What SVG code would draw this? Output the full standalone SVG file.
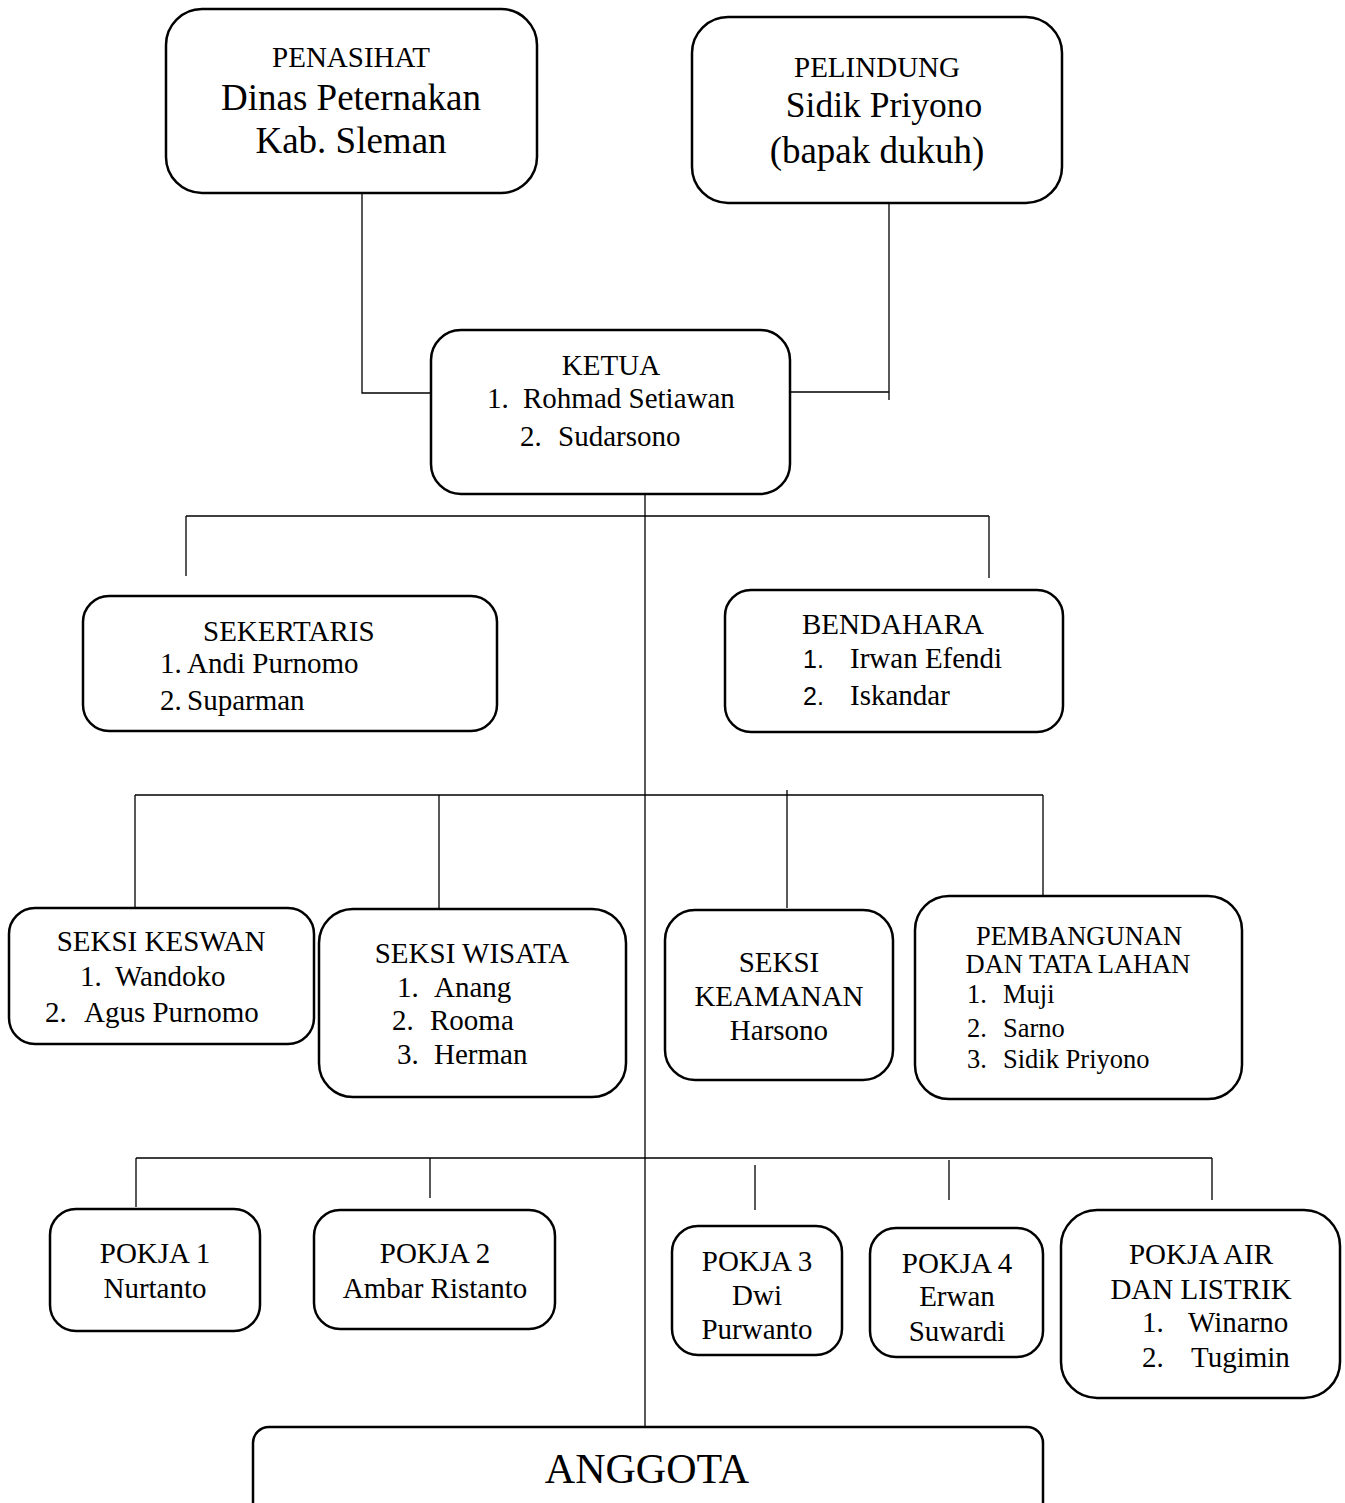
<svg xmlns="http://www.w3.org/2000/svg" width="1345" height="1503" viewBox="0 0 1345 1503">
<style>
.box{fill:#fff;stroke:#000;stroke-width:2.5}
.ln{stroke:#000;stroke-width:1.3;fill:none}
text{font-family:"Liberation Serif","Times New Roman",serif;font-size:29px;fill:#000}
.c{text-anchor:middle}
.big{font-size:37px}
.sans{font-family:"Liberation Sans",Arial,sans-serif;font-size:25px}
.sm{font-size:26.5px}
</style>
<rect width="1345" height="1503" fill="#fff"/>
<g id="connectors">
<path class="ln" d="M362 193V393H432"/>
<path class="ln" d="M790 392H889M889 203V400"/>
<path class="ln" d="M645 494V1427"/>
<path class="ln" d="M186 516H989M186 516V576M989 516V578"/>
<path class="ln" d="M135 795H1043M135 795V908M439 795V908M787 790V908M1043 795V895"/>
<path class="ln" d="M136 1158H1212M136 1158V1207M430 1158V1198M755 1165V1210M949 1160V1200M1212 1158V1200"/>
</g>
<g id="penasihat">
<rect class="box" x="166" y="9" width="371" height="184" rx="36"/>
<text class="c" x="351" y="67">PENASIHAT</text>
<text class="c big" x="351" y="110">Dinas Peternakan</text>
<text class="c big" x="351" y="153">Kab. Sleman</text>
</g>
<g id="pelindung">
<rect class="box" x="692" y="17" width="370" height="186" rx="36"/>
<text class="c" x="877" y="77">PELINDUNG</text>
<text class="c big" x="884" y="117" style="font-size:35.5px">Sidik Priyono</text>
<text class="c big" x="877" y="163">(bapak dukuh)</text>
</g>
<g id="ketua">
<rect class="box" x="431" y="330" width="359" height="164" rx="30"/>
<text class="c" x="611" y="375">KETUA</text>
<text x="487" y="408">1.</text><text x="523" y="408">Rohmad Setiawan</text>
<text x="520" y="446">2.</text><text x="558" y="446">Sudarsono</text>
</g>
<g id="sekertaris">
<rect class="box" x="83" y="596" width="414" height="135" rx="26"/>
<text x="203" y="641">SEKERTARIS</text>
<text x="160" y="673">1.</text><text x="187" y="673">Andi Purnomo</text>
<text x="160" y="710">2.</text><text x="187" y="710">Suparman</text>
</g>
<g id="bendahara">
<rect class="box" x="725" y="590" width="338" height="142" rx="26"/>
<text x="802" y="634">BENDAHARA</text>
<text class="sans" x="803" y="668">1.</text><text x="850" y="668">Irwan Efendi</text>
<text class="sans" x="803" y="705">2.</text><text x="850" y="705">Iskandar</text>
</g>
<g id="seksi-keswan">
<rect class="box" x="9" y="908" width="305" height="136" rx="26"/>
<text class="c" x="161" y="951">SEKSI KESWAN</text>
<text x="80" y="986">1.</text><text x="115" y="986">Wandoko</text>
<text x="45" y="1022">2.</text><text x="84" y="1022">Agus Purnomo</text>
</g>
<g id="seksi-wisata">
<rect class="box" x="319" y="909" width="307" height="188" rx="34"/>
<text class="c" x="472" y="963">SEKSI WISATA</text>
<text x="397" y="997">1.</text><text x="434" y="997">Anang</text>
<text x="392" y="1030">2.</text><text x="430" y="1030">Rooma</text>
<text x="397" y="1064">3.</text><text x="434" y="1064">Herman</text>
</g>
<g id="seksi-keamanan">
<rect class="box" x="665" y="910" width="228" height="170" rx="30"/>
<text class="c" x="779" y="972">SEKSI</text>
<text class="c" x="779" y="1006">KEAMANAN</text>
<text class="c" x="779" y="1040">Harsono</text>
</g>
<g id="pembangunan">
<rect class="box" x="915" y="896" width="327" height="203" rx="34"/>
<text class="c sm" x="1079" y="945">PEMBANGUNAN</text>
<text class="c sm" x="1078" y="973">DAN TATA LAHAN</text>
<text class="sm" x="967" y="1003">1.</text><text class="sm" x="1003" y="1003">Muji</text>
<text class="sm" x="967" y="1037">2.</text><text class="sm" x="1003" y="1037">Sarno</text>
<text class="sm" x="967" y="1068">3.</text><text class="sm" x="1003" y="1068">Sidik Priyono</text>
</g>
<g id="pokja-1">
<rect class="box" x="50" y="1209" width="210" height="122" rx="26"/>
<text class="c" x="155" y="1263">POKJA 1</text>
<text class="c" x="155" y="1298">Nurtanto</text>
</g>
<g id="pokja-2">
<rect class="box" x="314" y="1210" width="241" height="119" rx="26"/>
<text class="c" x="435" y="1263">POKJA 2</text>
<text class="c" x="435" y="1298">Ambar Ristanto</text>
</g>
<g id="pokja-3">
<rect class="box" x="672" y="1226" width="170" height="129" rx="26"/>
<text class="c" x="757" y="1271">POKJA 3</text>
<text class="c" x="757" y="1305">Dwi</text>
<text class="c" x="757" y="1339">Purwanto</text>
</g>
<g id="pokja-4">
<rect class="box" x="870" y="1228" width="173" height="129" rx="26"/>
<text class="c" x="957" y="1273">POKJA 4</text>
<text class="c" x="957" y="1306">Erwan</text>
<text class="c" x="957" y="1341">Suwardi</text>
</g>
<g id="pokja-air">
<rect class="box" x="1061" y="1210" width="279" height="188" rx="36"/>
<text class="c" x="1201" y="1264">POKJA AIR</text>
<text class="c" x="1201" y="1299">DAN LISTRIK</text>
<text x="1142" y="1332">1.</text><text x="1188" y="1332">Winarno</text>
<text x="1142" y="1367">2.</text><text x="1191" y="1367">Tugimin</text>
</g>
<g id="anggota">
<rect class="box" x="253" y="1427" width="790" height="110" rx="16"/>
<text class="c" x="647" y="1483" style="font-size:42px">ANGGOTA</text>
</g>
</svg>
